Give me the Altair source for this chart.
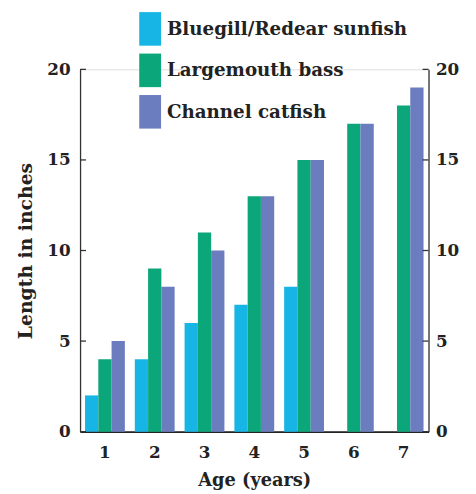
import altair as alt
import pandas as pd

ages = ["1", "2", "3", "4", "5", "6", "7"]
species = ["Bluegill/Redear sunfish", "Largemouth bass", "Channel catfish"]
bluegill = [2, 4, 6, 7, 8, None, None]
bass = [4, 9, 11, 13, 15, 17, 18]
catfish = [5, 8, 10, 13, 15, 17, 19]
colors = ["#17b4e6", "#0ba679", "#6b7cbf"]
tick_values = [0, 5, 10, 15, 20]

rows = []
for i, a in enumerate(ages):
    for s, vals in zip(species, [bluegill, bass, catfish]):
        if vals[i] is not None:
            rows.append({"age": a, "species": s, "length": vals[i]})
df = pd.DataFrame(rows)
ticks_df = pd.DataFrame({"v": tick_values})

FONT = "DejaVu Serif"
FS = 17
W, H = 353, 367

yscale = alt.Scale(domain=[0, 20], nice=False)

bars = alt.Chart(df).mark_bar().encode(
    x=alt.X("age:N", sort=ages,
            scale=alt.Scale(paddingInner=0.2, paddingOuter=0.1),
            axis=alt.Axis(title="Age (years)", labelAngle=0, ticks=False,
                          domainColor="#222", domainWidth=2,
                          labelFont=FONT, labelFontSize=FS, labelFontWeight="bold",
                          labelColor="#222", labelPadding=13,
                          titleFont=FONT, titleFontSize=18, titleFontWeight="bold",
                          titleColor="#222", titlePadding=12)),
    xOffset=alt.XOffset("species:N", sort=species),
    y=alt.Y("length:Q", scale=yscale,
            axis=alt.Axis(title="Length in inches", values=tick_values, ticks=False,
                          grid=False, domainColor="#333", domainWidth=1.3,
                          labelFont=FONT, labelFontSize=FS, labelFontWeight="bold",
                          labelColor="#222", labelPadding=10,
                          titleFont=FONT, titleFontSize=19, titleFontWeight="bold",
                          titleColor="#222", titlePadding=12)),
    color=alt.Color("species:N", sort=species,
                    scale=alt.Scale(domain=species, range=colors),
                    legend=alt.Legend(title=None, orient="none", legendX=54, legendY=-58,
                                      symbolType="M-0.65,-1H0.65V1H-0.65Z",
                                      symbolSize=1156, symbolStrokeWidth=0,
                                      symbolOpacity=1, labelLimit=0,
                                      labelFont=FONT, labelFontSize=18.5,
                                      labelFontWeight="bold", labelColor="#222",
                                      labelOffset=0, rowPadding=8, padding=0)),
)

right = alt.Chart(ticks_df).mark_rule(opacity=0).encode(
    y=alt.Y("v:Q", scale=yscale,
            axis=alt.Axis(title=None, orient="right", values=tick_values, ticks=False,
                          grid=False, domainColor="#333", domainWidth=1.3,
                          labelFont=FONT, labelFontSize=FS, labelFontWeight="bold",
                          labelColor="#222", labelPadding=7)),
)

left_ticks = alt.Chart(ticks_df).mark_rule(color="#333", strokeWidth=1.3).encode(
    y=alt.Y("v:Q", scale=yscale, axis=None),
    x=alt.value(0), x2=alt.value(6),
)
right_ticks = alt.Chart(ticks_df).mark_rule(color="#333", strokeWidth=1.3).encode(
    y=alt.Y("v:Q", scale=yscale, axis=None),
    x=alt.value(W - 6), x2=alt.value(W),
)

chart = alt.layer(bars, right, left_ticks, right_ticks).resolve_scale(
    y="shared"
).resolve_axis(y="independent").properties(
    width=W, height=H,
    autosize=alt.AutoSizeParams(type="none"),
    padding={"left": 73, "top": 59, "right": 40, "bottom": 60},
).configure_view(stroke=None).configure(background="white")

chart.save("out.html", embed_options={"renderer": "svg", "actions": False})
